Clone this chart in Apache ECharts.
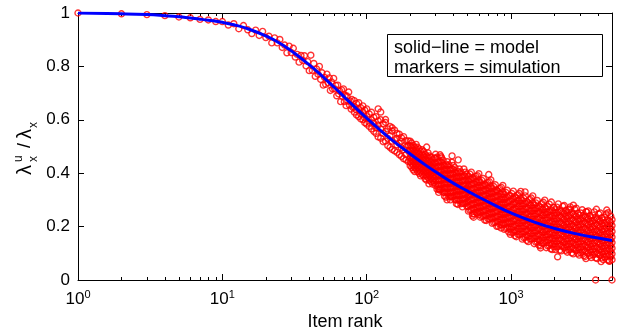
<!DOCTYPE html>
<html>
<head>
<meta charset="utf-8">
<script src="https://cdn.jsdelivr.net/npm/echarts@6/dist/echarts.min.js"></script>
<style>
  html, body { margin: 0; padding: 0; background: #fff; }
  #chart { width: 620px; height: 333px; }
</style>
</head>
<body>
<div id="chart"></div>
<script>
"use strict";

// tick values of the log x axis
var majorTicks = [1, 10, 100, 1000];
var minorTicks = [2, 3, 4, 5, 6, 7, 8, 9, 20, 30, 40, 50, 60, 70, 80, 90,
    200, 300, 400, 500, 600, 700, 800, 900, 2000, 3000, 4000, 5000];

// model curve (solid line)
var modelRank = [1, 2, 3, 4, 5, 6, 7, 8, 10, 12, 15, 20, 25, 30, 40, 50, 60, 70, 80, 100,
    120, 150, 200, 250, 300, 400, 500, 600, 800, 1000, 1500, 2000, 3000, 4000, 5000];
var modelValue = [1.000, .997, .994, .990, .986, .981, .977, .973, .965, .956, .941, .914, .887, .858, .806, .760, .720, .685, .655, .606,
    .568, .524, .472, .434, .405, .362, .333, .310, .276, .251, .214, .193, .170, .157, .148];

// simulation markers: [rank, value, value, ...]
var simRows = [
    [1, 1.000], [2, .997], [3, .994], [4, .990], [5, .985], [6, .982], [7, .976], [8, .974], [9, .968],
    [10, .968], [11, .955], [12, .960], [13, .941], [14, .953], [15, .937], [16, .923], [17, .936], [18, .916], [19, .931],
    [20, .908], [21, .913], [22, .888], [23, .907], [24, .888], [25, .901], [26, .871], [27, .880], [28, .851], [29, .876],
    [30, .852], [31, .868], [32, .835], [33, .845], [34, .816], [35, .841], [36, .823], [37, .840], [38, .802], [39, .818],
    [40, .784], [41, .842], [42, .785], [43, .811], [44, .763], [45, .790], [46, .771], [47, .800], [48, .751], [49, .776],
    [50, .730], [51, .759], [52, .733], [53, .771], [54, .739], [55, .757], [56, .710], [57, .742], [58, .716], [59, .755],
    [60, .716], [61, .729], [62, .690], [63, .730], [64, .697], [65, .707], [66, .668], [67, .712], [68, .687], [69, .716],
    [70, .668], [71, .691], [72, .653], [73, .689], [74, .670], [75, .704], [76, .655], [77, .670], [78, .640], [79, .676], [80, .647],
    [82, .672, .629, .648], [85, .618, .661, .637], [88, .664, .612, .641], [91, .603, .645, .622], [94, .652, .601, .630],
    [97, .589, .636, .607], [100, .641, .584, .612], [104, .575, .622, .590], [108, .628, .566, .600], [112, .557, .609, .587],
    [116, .612, .549, .570], [120, .536, .596, .580, .641], [125, .600, .531, .566, .629], [130, .518, .585, .549],
    [135, .590, .520, .556, .601], [140, .503, .566, .530], [145, .575, .497, .540], [150, .489, .558, .520, .570],
    [156, .561, .484, .525], [162, .478, .549, .506, .531], [168, .546, .470, .512], [174, .463, .533, .495, .520],
    [180, .537, .455, .488], [187, .450, .522, .497, .470], [194, .521, .443, .484, .505],
    [200, .520, .502, .486, .472, .457, .443, .428],
    [210, .504, .486, .471, .456, .442, .427, .412],
    [220, .508, .491, .475, .460, .445, .430, .415],
    [231, .491, .473, .457, .443, .428, .414, .399],
    [242, .488, .470, .454, .440, .425, .411, .396],
    [254, .471, .453, .438, .423, .409, .394, .379],
    [266, .476, .459, .443, .428, .413, .398, .383],
    [279, .460, .442, .426, .412, .397, .383, .368],
    [293, .457, .439, .423, .409, .394, .380, .365],
    [307, .460, .442, .424, .407, .390, .373, .356, .340],
    [322, .444, .426, .408, .391, .374, .357, .340, .469],
    [338, .449, .431, .413, .396, .379, .362, .345, .329],
    [354, .434, .416, .398, .381, .364, .347, .330, .310],
    [371, .431, .413, .395, .378, .361, .344, .327, .311],
    [389, .416, .398, .380, .363, .346, .329, .312, .441],
    [408, .421, .403, .385, .368, .351, .334, .317, .301],
    [428, .407, .389, .371, .354, .337, .320, .303, .283],
    [449, .405, .387, .369, .352, .335, .318, .301, .285],
    [471, .391, .373, .355, .338, .321, .304, .287, .416],
    [494, .396, .378, .360, .343, .326, .309, .292, .276],
    [518, .397, .377, .357, .338, .319, .300, .281, .262],
    [543, .383, .363, .343, .324, .305, .286, .267, .248],
    [570, .388, .368, .348, .329, .310, .291, .272, .253],
    [598, .374, .354, .334, .315, .296, .277, .258, .398],
    [627, .373, .353, .333, .314, .295, .276, .257, .238],
    [658, .359, .339, .319, .300, .281, .262, .243, .224],
    [690, .365, .345, .325, .306, .287, .268, .249, .230],
    [724, .351, .331, .311, .292, .273, .254, .235, .375],
    [759, .350, .330, .310, .291, .272, .253, .234, .215],
    [796, .336, .316, .296, .277, .258, .239, .220, .201],
    [835, .343, .323, .303, .284, .265, .246, .227, .208],
    [876, .330, .310, .290, .271, .252, .233, .214, .354],
    [919, .328, .308, .288, .269, .250, .231, .212, .193],
    [964, .315, .295, .275, .256, .237, .218, .199, .180],
    [1011, .324, .303, .282, .261, .240, .219, .198, .177],
    [1061, .312, .291, .270, .249, .228, .207, .186, .166],
    [1113, .319, .298, .277, .256, .235, .214, .193, .172],
    [1167, .307, .286, .265, .244, .223, .202, .181, .332],
    [1224, .306, .285, .264, .243, .222, .201, .180, .159],
    [1284, .294, .273, .252, .231, .210, .189, .168, .148],
    [1347, .302, .281, .260, .239, .218, .197, .176, .155],
    [1413, .290, .269, .248, .227, .206, .185, .164, .315],
    [1482, .289, .268, .247, .226, .205, .184, .163, .142],
    [1555, .277, .256, .235, .214, .193, .172, .151, .131],
    [1631, .286, .265, .244, .223, .202, .181, .160, .139],
    [1711, .274, .253, .232, .211, .190, .169, .148, .299],
    [1795, .275, .254, .233, .212, .191, .170, .149, .128],
    [1883, .263, .242, .221, .200, .179, .158, .137, .117],
    [1975, .272, .251, .230, .209, .188, .167, .146, .125],
    [2072, .273, .251, .229, .208, .187, .166, .145, .124],
    [2173, .262, .240, .218, .197, .176, .155, .134, .112],
    [2280, .276, .252, .230, .208, .186, .165, .144, .124],
    [2391, .261, .239, .217, .196, .175, .154, .133, .111],
    [2508, .262, .240, .218, .197, .176, .155, .134, .113],
    [2631, .252, .230, .208, .187, .166, .145, .124, .102],
    [2760, .265, .241, .219, .197, .175, .154, .133, .113],
    [2895, .250, .228, .206, .185, .164, .143, .122, .100],
    [3037, .251, .229, .207, .186, .165, .144, .123, .102],
    [3186, .241, .219, .197, .176, .155, .134, .113, .091],
    [3342, .255, .231, .209, .187, .165, .144, .123, .103],
    [3506, .241, .219, .197, .176, .155, .134, .113, .091],
    [3677, .243, .221, .199, .178, .157, .136, .115, .094],
    [3857, .233, .211, .189, .168, .147, .126, .105, .083],
    [4046, .247, .223, .201, .179, .157, .136, .115, .095],
    [4245, .233, .211, .189, .168, .147, .126, .105, .083],
    [4453, .235, .213, .191, .170, .149, .128, .107, .086],
    [4671, .225, .203, .181, .160, .139, .118, .097, .075],
    [4900, .239, .215, .193, .171, .149, .128, .107, .087],
    [5000, .226, .204, .182, .161, .140, .119, .098, .076],
    // in-between ranks of the dense band
    [205, .513, .497, .482, .467, .452, .437, .422],
    [215, .497, .481, .466, .451, .436, .421, .406],
    [225, .497, .481, .466, .451, .436, .421, .406],
    [236, .481, .465, .450, .435, .420, .405, .390],
    [248, .481, .465, .450, .435, .420, .405, .390],
    [260, .465, .449, .434, .419, .404, .389, .374],
    [272, .465, .449, .434, .419, .404, .389, .374],
    [286, .450, .434, .419, .404, .389, .374, .359],
    [300, .455, .438, .421, .404, .387, .370, .353, .471],
    [315, .443, .426, .409, .392, .375, .358, .341, .328],
    [330, .441, .424, .407, .390, .373, .356, .339, .457],
    [346, .429, .412, .395, .378, .361, .344, .327, .314],
    [362, .427, .410, .393, .376, .359, .342, .325, .443],
    [380, .415, .398, .381, .364, .347, .330, .313, .300],
    [398, .413, .396, .379, .362, .345, .328, .311, .429],
    [418, .401, .384, .367, .350, .333, .316, .299, .286],
    [438, .400, .383, .366, .349, .332, .315, .298, .416],
    [460, .389, .372, .355, .338, .321, .304, .287, .274],
    [482, .388, .371, .354, .337, .320, .303, .286, .404],
    [506, .389, .370, .351, .332, .313, .294, .275, .258],
    [530, .378, .359, .340, .321, .302, .283, .264, .404],
    [556, .378, .359, .340, .321, .302, .283, .264, .247],
    [584, .365, .346, .327, .308, .289, .270, .251, .391],
    [612, .366, .347, .328, .309, .290, .271, .252, .235],
    [642, .354, .335, .316, .297, .278, .259, .240, .380],
    [674, .354, .335, .316, .297, .278, .259, .240, .223],
    [707, .342, .323, .304, .285, .266, .247, .228, .368],
    [741, .343, .324, .305, .286, .267, .248, .229, .212],
    [777, .331, .312, .293, .274, .255, .236, .217, .357],
    [815, .332, .313, .294, .275, .256, .237, .218, .201],
    [855, .321, .302, .283, .264, .245, .226, .207, .347],
    [897, .321, .302, .283, .264, .245, .226, .207, .190],
    [941, .310, .291, .272, .253, .234, .215, .196, .336],
    [987, .316, .295, .274, .253, .232, .211, .190, .171],
    [1036, .305, .284, .263, .242, .221, .200, .179, .333],
    [1087, .307, .286, .265, .244, .223, .202, .181, .162],
    [1140, .296, .275, .254, .233, .212, .191, .170, .324],
    [1195, .298, .277, .256, .235, .214, .193, .172, .153],
    [1254, .287, .266, .245, .224, .203, .182, .161, .315],
    [1315, .289, .268, .247, .226, .205, .184, .163, .144],
    [1380, .279, .258, .237, .216, .195, .174, .153, .307],
    [1447, .281, .260, .239, .218, .197, .176, .155, .136],
    [1518, .270, .249, .228, .207, .186, .165, .144, .298],
    [1593, .273, .252, .231, .210, .189, .168, .147, .128],
    [1671, .263, .242, .221, .200, .179, .158, .137, .291],
    [1753, .266, .245, .224, .203, .182, .161, .140, .121],
    [1839, .256, .235, .214, .193, .172, .151, .130, .284],
    [1929, .259, .238, .217, .196, .175, .154, .133, .114],
    [2023, .263, .241, .219, .198, .177, .156, .135, .114],
    [2122, .254, .232, .210, .189, .168, .147, .126, .285],
    [2226, .258, .236, .214, .193, .172, .151, .130, .109],
    [2335, .248, .226, .204, .183, .162, .141, .120, .279],
    [2449, .253, .231, .209, .188, .167, .146, .125, .104],
    [2569, .243, .221, .199, .178, .157, .136, .115, .274],
    [2695, .247, .225, .203, .182, .161, .140, .119, .098],
    [2827, .238, .216, .194, .173, .152, .131, .110, .269],
    [2965, .242, .220, .198, .177, .156, .135, .114, .093],
    [3111, .232, .210, .188, .167, .146, .125, .104, .263],
    [3263, .237, .215, .193, .172, .151, .130, .109, .088],
    [3424, .228, .206, .184, .163, .142, .121, .100, .259],
    [3591, .233, .211, .189, .168, .147, .126, .105, .084],
    [3767, .224, .202, .180, .159, .138, .117, .096, .255],
    [3951, .229, .207, .185, .164, .143, .122, .101, .080],
    [4145, .220, .198, .176, .155, .134, .113, .092, .251],
    [4349, .225, .203, .181, .160, .139, .118, .097, .076],
    [4562, .216, .194, .172, .151, .130, .109, .088, .247],
    [4785, .221, .199, .177, .156, .135, .114, .093, .072],
    // outliers
    [260, .498], [270, .360], [320, .337], [327, .462], [360, .300], [390, .465], [430, .450], [540, .240],
    [550, .235], [600, .245], [700, .395], [790, .337], [850, .195], [1250, .330], [1600, .120], [1900, .292],
    [2100, .087], [2550, .266], [2700, .280], [3300, .080], [3300, .256], [3850, 0], [3900, .265], [4200, .069],
    [4600, .262], [4700, .252], [4800, .070], [5000, 0]
];

var FONT = '"Liberation Sans", Arial, Helvetica, sans-serif';

// 展开仿真点
var simData = [];
simRows.forEach(function (row) {
    for (var i = 1; i < row.length; i++) {
        simData.push([row[0], row[i]]);
    }
});
var modelData = modelRank.map(function (r, i) {
    return [r, modelValue[i]];
});

// 对数轴公共配置
function logAxis(pos, ticks, len, showLine, showLabel) {
    return {
        type: 'log',
        logBase: 10,
        min: 1,
        max: 5000,
        position: pos,
        axisLine: {show: showLine, lineStyle: {color: '#000', width: 1}},
        axisTick: {show: true, inside: true, length: len, customValues: ticks, lineStyle: {color: '#000', width: 1}},
        axisLabel: showLabel ? {
            customValues: majorTicks,
            margin: 9,
            color: '#000',
            formatter: function (v) {
                return '{b|10}{s|' + Math.round(Math.log(v) / Math.LN10) + '}';
            },
            rich: {
                b: {fontSize: 17, fontFamily: FONT, color: '#000'},
                s: {fontSize: 11, fontFamily: FONT, color: '#000', padding: [0, 0, 10, 0]}
            }
        } : {show: false},
        splitLine: {show: false},
        minorTick: {show: false}
    };
}

function valAxis(pos, showLabel) {
    return {
        type: 'value',
        min: 0,
        max: 1,
        interval: 0.2,
        position: pos,
        axisLine: {show: true, lineStyle: {color: '#000', width: 1}},
        axisTick: {show: true, inside: true, length: 6, lineStyle: {color: '#000', width: 1}},
        axisLabel: showLabel ? {color: '#000', fontSize: 17, fontFamily: FONT, margin: 8} : {show: false},
        splitLine: {show: false}
    };
}

var xBottom = logAxis('bottom', majorTicks, 6, true, true);
xBottom.name = 'Item rank';
xBottom.nameLocation = 'middle';
xBottom.nameGap = 33;
xBottom.nameTextStyle = {color: '#000', fontSize: 18, fontFamily: FONT};

var option = {
    animation: false,
    backgroundColor: '#fff',
    grid: {left: 78, right: 8, top: 13, bottom: 53, outerBoundsMode: 'none'},
    xAxis: [
        xBottom,
        logAxis('bottom', minorTicks, 3, false, false),
        logAxis('top', majorTicks, 6, true, false),
        logAxis('top', minorTicks, 3, false, false)
    ],
    yAxis: [
        valAxis('left', true),
        valAxis('right', false)
    ],
    series: [
        {
            name: 'simulation',
            type: 'scatter',
            data: simData,
            symbol: 'circle',
            symbolSize: 6,
            clip: false,
            large: false,
            itemStyle: {color: 'rgba(255,0,0,0)', borderColor: '#ff0000', borderWidth: 1.4},
            z: 2
        },
        {
            name: 'model',
            type: 'line',
            data: modelData,
            showSymbol: false,
            smooth: true,
            lineStyle: {color: '#0000ff', width: 3},
            z: 3
        }
    ],
    graphic: [
        // 图例框
        {
            type: 'group',
            z: 100,
            children: [
                {
                    type: 'rect',
                    shape: {x: 387.5, y: 34.5, width: 215, height: 42},
                    style: {fill: '#fff', stroke: '#000', lineWidth: 1}
                },
                {
                    type: 'text', x: 394, y: 48,
                    style: {text: 'solid\u2212line = model', font: '18px ' + FONT, fill: '#000', verticalAlign: 'middle'}
                },
                {
                    type: 'text', x: 394, y: 68,
                    style: {text: 'markers = simulation', font: '18px ' + FONT, fill: '#000', verticalAlign: 'middle'}
                }
            ]
        },
        // y轴标题
        {
            type: 'group',
            x: 25,
            y: 147,
            rotation: Math.PI / 2,
            children: [
                {type: 'text', x: -28, y: 0, style: {text: '\u03bb', font: '20px ' + FONT, fill: '#000', verticalAlign: 'middle'}},
                {type: 'text', x: -15, y: -6, style: {text: 'u', font: '12px ' + FONT, fill: '#000', verticalAlign: 'middle'}},
                {type: 'text', x: -15, y: 9, style: {text: 'x', font: '12px ' + FONT, fill: '#000', verticalAlign: 'middle'}},
                {type: 'text', x: -1, y: 0, style: {text: '/', font: '18px ' + FONT, fill: '#000', verticalAlign: 'middle'}},
                {type: 'text', x: 8, y: 0, style: {text: '\u03bb', font: '20px ' + FONT, fill: '#000', verticalAlign: 'middle'}},
                {type: 'text', x: 19, y: 9, style: {text: 'x', font: '12px ' + FONT, fill: '#000', verticalAlign: 'middle'}}
            ]
        }
    ]
};

var myChart = echarts.init(document.getElementById('chart'));
myChart.setOption(option);
</script>
</body>
</html>
